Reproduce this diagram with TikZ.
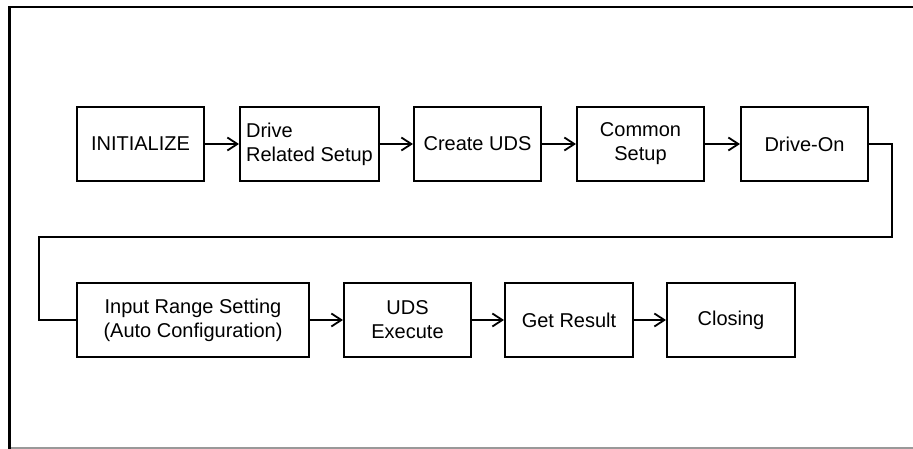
\documentclass[tikz,border=0pt]{standalone}
\usepackage{fontspec}
\setmainfont{Liberation Sans}
\usetikzlibrary{arrows.meta}
\begin{document}
\begin{tikzpicture}[x=1pt,y=-1pt,
  box/.style={draw, line width=2pt, inner sep=0pt, minimum height=74pt,
    align=center, font=\fontsize{20}{24}\selectfont},
  flow/.style={line width=2pt, -{Straight Barb[length=10pt,width=13pt,line width=1.8pt]}},
  link/.style={line width=2pt}]
\useasboundingbox (0,0) rectangle (913,449);
% frame
\draw[line width=2.5pt] (913,7) -- (9.5,7) -- (9.5,449);
\draw[gray!80, line width=1.2pt] (11,448) -- (913,448);
% row 1
\node[box, minimum width=127pt] (ini) at (140.5,144) {INITIALIZE};
\node[box, minimum width=139pt, align=left] (drs) at (309.5,144) {Drive\\Related Setup};
\node[box, minimum width=127pt] (cuds) at (477.5,144) {Create UDS};
\node[box, minimum width=127pt] (cs) at (640.5,144) {Common\\Setup};
\node[box, minimum width=127pt] (don) at (804.5,144) {Drive-On};
% row 2
\node[box, minimum width=232pt] (irs) at (193,320) {Input Range Setting\\(Auto Configuration)};
\node[box, minimum width=127pt] (ue) at (407.5,320) {UDS\\Execute};
\node[box, minimum width=128pt] (gr) at (569,320) {Get Result};
\node[box, minimum width=128pt] (cl) at (731,320) {Closing};
% connectors
\draw[flow] (ini) -- (drs);
\draw[flow] (drs) -- (cuds);
\draw[flow] (cuds) -- (cs);
\draw[flow] (cs) -- (don);
\coordinate (tr) at (892,237);
\coordinate (tl) at (39,237);
\draw[link] (don.east) -| (tr) -- (tl) |- (irs.west);
\draw[flow] (irs) -- (ue);
\draw[flow] (ue) -- (gr);
\draw[flow] (gr) -- (cl);
\end{tikzpicture}
\end{document}
